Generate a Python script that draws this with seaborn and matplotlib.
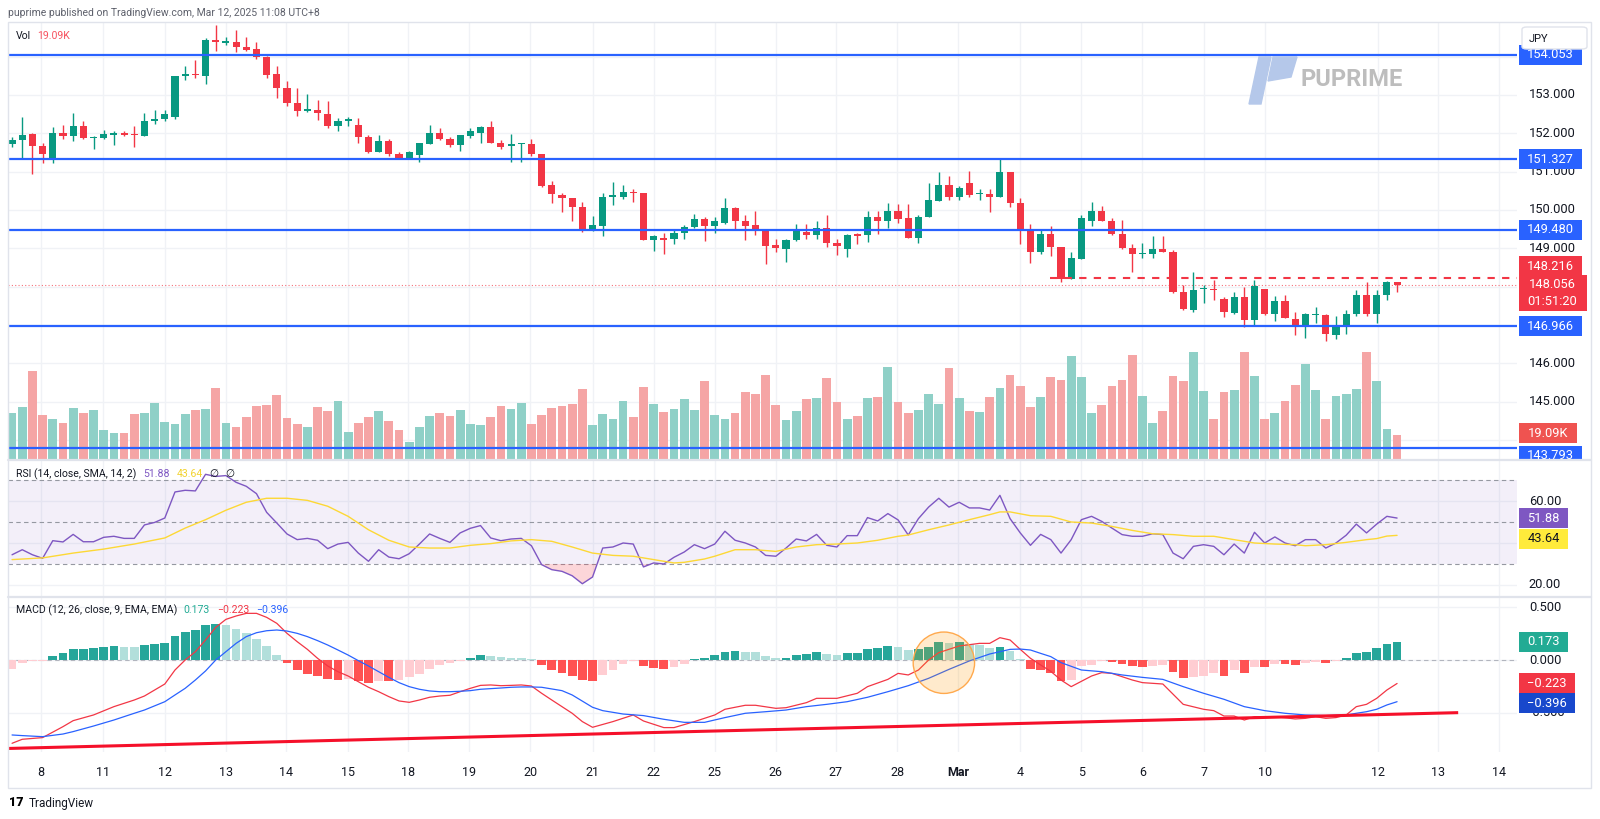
import numpy as np
import matplotlib
matplotlib.use("Agg")
import matplotlib.pyplot as plt
import seaborn as sns
from matplotlib.patches import Rectangle, Polygon, Ellipse, FancyBboxPatch
from matplotlib.lines import Line2D

# ---------------- data (4H candles, USD/JPY) ----------------
opens = [151.72, 151.83, 151.98, 151.67, 151.31, 152.00, 151.94, 152.19, 151.88, 151.88,
         151.95, 152.01, 151.98, 151.94, 152.31, 152.38, 152.42, 153.50, 153.55, 153.50,
         154.43, 154.35, 154.38, 154.26, 154.19, 153.98, 153.54, 153.18, 152.78, 152.59,
         152.61, 152.51, 152.19, 152.32, 152.22, 151.91, 151.52, 151.81, 151.47, 151.36,
         151.44, 151.72, 152.00, 151.86, 151.69, 151.94, 152.00, 152.16, 151.76, 151.67,
         151.71, 151.72, 151.45, 150.65, 150.40, 150.31, 150.07, 149.46, 149.59, 150.35,
         150.35, 150.47, 150.44, 149.22, 149.25, 149.24, 149.39, 149.55, 149.76, 149.57,
         149.65, 150.06, 149.71, 149.60, 149.45, 149.08, 148.98, 149.22, 149.42, 149.35,
         149.52, 149.15, 148.98, 149.37, 149.35, 149.83, 149.71, 149.98, 149.78, 149.28,
         149.83, 150.24, 150.65, 150.35, 150.70, 150.41, 150.42, 150.35, 150.98, 150.18,
         149.48, 148.91, 149.38, 149.03, 148.19, 148.72, 149.70, 149.98, 149.71, 149.37,
         149.00, 148.85, 148.85, 148.98, 148.91, 147.87, 147.39, 147.93, 147.93, 147.67,
         147.31, 147.74, 147.12, 147.93, 147.29, 147.63, 147.16, 147.00, 147.26, 147.26,
         146.74, 146.98, 147.28, 147.77, 147.28, 147.77, 148.11]
highs = [151.91, 152.42, 152.02, 151.74, 152.16, 152.22, 152.54, 152.31, 151.93, 152.09,
         152.05, 152.05, 152.18, 152.52, 152.61, 152.61, 153.50, 153.76, 153.91, 154.48,
         154.83, 154.52, 154.70, 154.52, 154.37, 154.02, 153.76, 153.37, 153.18, 153.02,
         152.87, 152.85, 152.39, 152.42, 152.41, 151.96, 151.96, 151.85, 151.50, 151.55,
         151.76, 152.22, 152.13, 151.90, 151.96, 152.15, 152.18, 152.32, 151.83, 151.98,
         151.76, 151.85, 151.45, 150.76, 150.44, 150.31, 150.22, 149.85, 150.45, 150.74,
         150.65, 150.55, 150.45, 149.35, 149.39, 149.48, 149.61, 149.89, 149.83, 149.83,
         150.31, 150.09, 149.87, 149.98, 149.51, 149.25, 149.25, 149.63, 149.63, 149.71,
         149.87, 149.24, 149.38, 149.39, 149.98, 149.98, 150.19, 150.16, 150.16, 149.87,
         150.70, 150.98, 150.89, 150.63, 151.02, 150.54, 150.54, 151.32, 150.98, 150.31,
         149.64, 149.48, 149.59, 149.03, 148.91, 149.87, 150.20, 150.11, 149.80, 149.74,
         149.11, 149.15, 149.32, 149.31, 148.96, 148.04, 148.39, 148.04, 148.18, 147.74,
         147.85, 147.98, 148.18, 147.93, 147.76, 147.78, 147.35, 147.31, 147.48, 147.28,
         147.24, 147.39, 147.91, 148.11, 147.91, 148.15, 148.13]
lows = [151.64, 151.35, 150.94, 151.22, 151.22, 151.85, 151.81, 151.85, 151.60, 151.86,
        151.70, 151.93, 151.65, 151.93, 152.25, 152.33, 152.38, 153.38, 153.44, 153.28,
        154.16, 154.31, 154.13, 154.16, 153.93, 153.45, 152.93, 152.71, 152.45, 152.56,
        152.35, 152.13, 152.05, 152.19, 151.76, 151.48, 151.50, 151.41, 151.34, 151.34,
        151.24, 151.72, 151.82, 151.64, 151.55, 151.89, 151.74, 151.74, 151.60, 151.26,
        151.25, 151.41, 150.61, 150.19, 149.96, 149.71, 149.42, 149.46, 149.31, 150.14,
        150.28, 150.22, 149.22, 148.94, 148.85, 149.11, 149.24, 149.52, 149.19, 149.39,
        149.64, 149.48, 149.22, 149.35, 148.58, 148.91, 148.64, 149.19, 149.25, 149.24,
        149.03, 148.83, 148.77, 149.11, 149.16, 149.37, 149.54, 149.65, 149.28, 149.13,
        149.81, 150.24, 150.26, 150.25, 150.33, 150.25, 149.96, 150.35, 150.07, 149.11,
        148.63, 148.85, 148.80, 148.11, 148.19, 148.72, 149.59, 149.70, 149.35, 148.98,
        148.39, 148.76, 148.74, 148.91, 147.83, 147.38, 147.33, 147.57, 147.65, 147.22,
        147.29, 146.94, 147.00, 147.26, 147.11, 147.18, 146.74, 146.65, 147.05, 146.57,
        146.63, 146.76, 147.24, 147.24, 147.05, 147.64, 147.85]
closes = [151.83, 151.96, 151.68, 151.45, 152.00, 151.93, 152.19, 151.88, 151.90, 151.98,
          152.02, 151.95, 151.96, 152.31, 152.38, 152.50, 153.50, 153.55, 153.53, 154.44,
          154.37, 154.41, 154.26, 154.18, 154.00, 153.53, 153.18, 152.80, 152.59, 152.64,
          152.52, 152.19, 152.31, 152.37, 151.90, 151.52, 151.81, 151.46, 151.36, 151.52,
          151.75, 152.00, 151.86, 151.69, 151.95, 152.06, 152.16, 151.76, 151.65, 151.71,
          151.72, 151.46, 150.63, 150.41, 150.30, 150.09, 149.46, 149.60, 150.35, 150.37,
          150.46, 150.44, 149.22, 149.32, 149.23, 149.39, 149.55, 149.76, 149.57, 149.71,
          150.06, 149.72, 149.59, 149.45, 149.07, 149.00, 149.22, 149.46, 149.35, 149.52,
          149.15, 149.07, 149.35, 149.33, 149.83, 149.71, 149.98, 149.77, 149.28, 149.83,
          150.26, 150.65, 150.35, 150.58, 150.39, 150.43, 150.35, 150.98, 150.18, 149.48,
          148.91, 149.38, 149.03, 148.19, 148.74, 149.78, 149.98, 149.71, 149.37, 149.00,
          148.85, 148.87, 148.98, 148.91, 147.87, 147.42, 147.91, 147.96, 147.90, 147.33,
          147.74, 147.13, 148.03, 147.29, 147.63, 147.19, 147.00, 147.28, 147.28, 146.76,
          146.98, 147.28, 147.77, 147.28, 147.77, 148.11, 148.056]
volume_k = [36.6, 41.3, 69.1, 34.8, 32.0, 28.6, 40.2, 36.1, 38.7, 23.2,
            20.6, 20.6, 35.3, 36.1, 44.1, 29.4, 27.9, 35.3, 38.7, 39.5,
            55.7, 28.6, 25.8, 33.3, 41.5, 42.6, 50.3, 32.5, 27.9, 25.3,
            40.8, 38.2, 45.7, 21.7, 28.6, 33.3, 37.9, 29.9, 23.2, 13.7,
            25.8, 34.1, 36.1, 34.1, 38.7, 27.9, 27.1, 33.3, 41.5, 39.5,
            44.1, 27.9, 34.8, 40.2, 41.5, 43.3, 55.0, 27.1, 35.3, 32.0,
            45.7, 33.3, 56.2, 43.3, 37.4, 39.5, 47.5, 38.7, 61.1, 34.8,
            32.0, 36.1, 52.4, 50.8, 65.8, 42.6, 30.7, 37.9, 47.5, 48.2,
            63.7, 44.9, 31.5, 34.1, 48.2, 48.8, 72.0, 44.9, 36.6, 38.7,
            50.8, 43.3, 71.2, 48.2, 37.9, 37.2, 48.8, 55.7, 65.8, 57.0,
            40.8, 48.8, 64.2, 61.9, 80.5, 64.2, 36.6, 42.6, 57.5, 61.7,
            81.3, 49.3, 28.6, 37.9, 65.0, 61.1, 83.3, 53.4, 32.0, 52.9,
            54.2, 83.9, 65.0, 32.0, 36.6, 45.7, 58.1, 74.3, 54.2, 32.0,
            49.3, 50.8, 54.7, 83.3, 61.1, 23.7, 19.09]
rsi = [34.4, 36.8, 34.4, 32.7, 41.1, 40.5, 44.1, 40.6, 40.6, 42.7,
       43.2, 42.2, 42.2, 48.6, 49.8, 51.9, 64.3, 65.1, 64.8, 72.7,
       71.7, 72.1, 68.9, 67.0, 63.5, 54.6, 49.5, 44.3, 41.6, 42.2,
       41.3, 37.3, 39.5, 40.3, 35.2, 31.3, 36.8, 33.3, 32.5, 34.9,
       39.5, 44.3, 42.2, 40.3, 44.8, 47.0, 48.3, 42.4, 41.1, 41.9,
       42.2, 38.7, 29.7, 27.3, 26.5, 24.4, 20.6, 23.8, 37.6, 38.1,
       40.0, 39.5, 28.6, 30.5, 30.0, 33.2, 35.7, 39.2, 37.3, 39.5,
       45.6, 41.3, 40.0, 38.1, 34.1, 33.7, 37.6, 41.9, 41.0, 44.1,
       38.9, 38.1, 43.5, 43.5, 52.1, 50.5, 54.0, 51.0, 43.8, 51.6,
       57.1, 61.3, 57.1, 59.4, 56.7, 56.7, 55.7, 62.7, 51.6, 44.8,
       38.9, 44.1, 41.6, 35.2, 41.6, 51.1, 52.7, 50.3, 47.1, 44.0,
       43.2, 43.2, 44.4, 44.0, 35.2, 32.5, 38.4, 39.2, 38.4, 34.4,
       39.5, 35.2, 45.1, 40.0, 42.9, 40.0, 38.7, 41.6, 41.6, 37.6,
       40.0, 43.7, 49.0, 44.8, 49.0, 52.7, 51.88]
rsi_sma_idx = [0, 3, 6, 9, 12, 15, 17, 19, 21, 23, 25, 27, 29, 31, 33, 35, 37, 39, 41, 43,
               45, 47, 49, 51, 53, 55, 57, 59, 61, 63, 65, 66, 68, 69, 71, 73, 75, 77, 79, 81,
               83, 85, 87, 88, 90, 92, 94, 96, 97, 98, 100, 102, 104, 106, 108, 110, 112, 114,
               116, 118, 120, 122, 124, 126, 127, 129, 131, 133, 134, 135, 136]
rsi_sma = [32.1, 32.9, 35.2, 37.1, 39.5, 42.4, 47.1, 51.1, 55.6, 59.4, 61.3, 61.3, 60.3, 57.5,
           52.7, 46.3, 41.3, 38.1, 37.6, 37.6, 38.9, 39.7, 41.0, 41.6, 40.8, 38.1, 35.2, 34.1,
           33.7, 32.1, 30.5, 30.8, 32.4, 33.7, 36.8, 36.8, 36.0, 38.1, 39.2, 39.5, 40.0, 41.3,
           43.2, 43.8, 46.3, 48.6, 51.1, 53.5, 54.8, 54.8, 53.0, 52.7, 50.0, 49.5, 47.9, 46.0,
           44.4, 44.0, 43.2, 43.2, 41.6, 40.0, 39.5, 39.2, 38.7, 39.2, 40.3, 41.6, 42.1, 43.3,
           43.64]
macd_hist = [-0.082, -0.025, -0.010, -0.006, 0.038, 0.066, 0.104, 0.107, 0.114, 0.123,
             0.130, 0.123, 0.123, 0.139, 0.155, 0.165, 0.228, 0.263, 0.282, 0.329,
             0.339, 0.332, 0.294, 0.256, 0.199, 0.130, 0.047, -0.032, -0.098, -0.130,
             -0.155, -0.180, -0.187, -0.177, -0.199, -0.218, -0.196, -0.199, -0.190, -0.165,
             -0.133, -0.082, -0.051, -0.032, -0.009, 0.022, 0.047, 0.035, 0.028, 0.019,
             0.019, 0.013, -0.047, -0.095, -0.120, -0.149, -0.187, -0.196, -0.142, -0.095,
             -0.038, -0.009, -0.057, -0.073, -0.082, -0.063, -0.038, 0.006, 0.019, 0.047,
             0.079, 0.085, 0.079, 0.073, 0.038, 0.019, 0.022, 0.047, 0.057, 0.073,
             0.057, 0.047, 0.066, 0.069, 0.104, 0.114, 0.136, 0.127, 0.095, 0.104,
             0.127, 0.168, 0.161, 0.168, 0.152, 0.142, 0.111, 0.127, 0.085, 0.013,
             -0.085, -0.095, -0.127, -0.196, -0.190, -0.057, -0.047, -0.009, -0.016, -0.038,
             -0.057, -0.063, -0.054, -0.052, -0.111, -0.174, -0.165, -0.149, -0.127, -0.149,
             -0.095, -0.127, -0.063, -0.063, -0.038, -0.038, -0.047, -0.032, -0.016, -0.025,
             -0.009, 0.019, 0.070, 0.079, 0.114, 0.152, 0.173]
macd_idx = [0, 1, 3, 5, 6, 8, 10, 12, 13, 15, 16, 17, 18, 19, 20, 21, 22, 23, 24, 25,
            26, 27, 28, 29, 30, 31, 32, 33, 34, 35, 36, 37, 38, 39, 40, 41, 42, 43, 44, 45,
            46, 47, 48, 49, 50, 51, 52, 53, 55, 56, 57, 59, 61, 62, 64, 65, 67, 69, 70, 72,
            73, 75, 76, 78, 79, 81, 83, 84, 86, 87, 88, 89, 90, 91, 93, 95, 96, 97, 98, 99,
            100, 101, 102, 103, 104, 106, 107, 108, 110, 111, 113, 115, 117, 118, 119, 120,
            121, 122, 124, 126, 127, 128, 129, 130, 131, 132, 133, 134, 135, 136]
macd_line = [-0.791, -0.753, -0.737, -0.633, -0.576, -0.522, -0.443, -0.380, -0.342, -0.228,
             -0.095, 0.000, 0.079, 0.190, 0.310, 0.386, 0.418, 0.443, 0.443, 0.405,
             0.348, 0.253, 0.174, 0.101, 0.016, -0.057, -0.111, -0.152, -0.206, -0.259,
             -0.301, -0.348, -0.389, -0.402, -0.380, -0.354, -0.342, -0.335, -0.301, -0.269,
             -0.241, -0.237, -0.244, -0.241, -0.237, -0.247, -0.316, -0.380, -0.506, -0.585,
             -0.639, -0.585, -0.522, -0.579, -0.642, -0.642, -0.585, -0.522, -0.468, -0.430,
             -0.430, -0.459, -0.453, -0.405, -0.364, -0.364, -0.316, -0.253, -0.184, -0.127,
             -0.142, -0.095, 0.000, 0.070, 0.133, 0.158, 0.158, 0.212, 0.190, 0.101,
             0.016, -0.047, -0.108, -0.190, -0.253, -0.152, -0.120, -0.127, -0.190, -0.215,
             -0.228, -0.421, -0.468, -0.481, -0.532, -0.532, -0.570, -0.538, -0.538, -0.560,
             -0.554, -0.538, -0.554, -0.547, -0.522, -0.443, -0.421, -0.364, -0.285, -0.223]
signal_idx = [0, 1, 3, 5, 6, 8, 10, 12, 13, 15, 16, 17, 18, 19, 20, 21, 22, 23, 24, 25,
              26, 27, 28, 29, 30, 31, 32, 33, 34, 35, 36, 37, 38, 39, 40, 41, 42, 43, 44, 45,
              46, 47, 48, 49, 50, 51, 52, 54, 55, 57, 58, 60, 62, 64, 66, 68, 70, 72, 74, 76,
              78, 80, 82, 84, 86, 88, 90, 92, 94, 96, 98, 99, 100, 101, 102, 103, 105, 107,
              109, 111, 113, 115, 117, 119, 121, 123, 125, 127, 129, 131, 132, 133, 134, 135, 136]
signal_line = [-0.712, -0.718, -0.728, -0.703, -0.680, -0.627, -0.570, -0.506, -0.475, -0.396,
               -0.332, -0.269, -0.190, -0.104, 0.000, 0.079, 0.158, 0.222, 0.259, 0.278,
               0.285, 0.275, 0.253, 0.222, 0.184, 0.142, 0.095, 0.047, -0.006, -0.057,
               -0.111, -0.165, -0.215, -0.253, -0.278, -0.294, -0.301, -0.301, -0.297, -0.291,
               -0.278, -0.272, -0.266, -0.259, -0.256, -0.256, -0.259, -0.291, -0.332, -0.449,
               -0.481, -0.513, -0.528, -0.563, -0.592, -0.592, -0.547, -0.506, -0.491, -0.475,
               -0.443, -0.421, -0.396, -0.354, -0.301, -0.244, -0.174, -0.089, -0.009, 0.057,
               0.101, 0.104, 0.095, 0.063, 0.032, -0.025, -0.095, -0.111, -0.142, -0.165,
               -0.184, -0.253, -0.316, -0.373, -0.443, -0.481, -0.506, -0.522, -0.528, -0.522,
               -0.506, -0.491, -0.468, -0.427, -0.396]
level_lines = [154.053, 151.327, 149.480, 146.966, 143.793]
resistance_dashed = 148.216
last_price = 148.056
countdown = "01:51:20"
trend_x = [-0.35, 142.0]
trend_y = [-0.84, -0.50]
day_labels = ['8', '11', '12', '13', '14', '15', '18', '19', '20', '21', '22', '25', '26',
              '27', '28', 'Mar', '4', '5', '6', '7', '10', '12', '13', '14']
day_pos = [2.8, 8.9, 15.0, 21.0, 26.9, 33.0, 38.9, 44.9, 50.9, 57.0, 63.0, 69.0, 75.0,
           80.9, 86.9, 92.9, 99.0, 105.0, 111.0, 117.0, 123.0, 134.1, 140.0, 146.0]
price_ticks = [144, 145, 146, 147, 148, 149, 150, 151, 152, 153, 154]
rsi_ticks = [20, 40, 60]
macd_ticks = [0.5, 0.0, -0.5]

# ---------------- style ----------------
sns.set_theme(style="white")
plt.rcParams['font.family'] = ['Roboto', 'DejaVu Sans']
plt.rcParams['axes.unicode_minus'] = True

GREEN, RED = '#089981', '#F23645'
BLUE = '#2962FF'
GRID = '#F0F2F6'
TXT = '#131722'

W, H = 1600, 819
fig = plt.figure(figsize=(16, 8.19), dpi=100, facecolor='white')

def rect(x0, y0, x1, y1):
    return [x0 / W, 1 - y1 / H, (x1 - x0) / W, (y1 - y0) / H]

def P(x, y):
    return (x / W, 1 - y / H)

X0, DX = 12.05, 10.184          # pixel position of first candle, pixels per candle
PX0, PX1 = 8, 1517
xlim = ((PX0 - X0) / DX, (PX1 - X0) / DX)
n = len(closes)
idx = np.arange(n)

ax_bg = fig.add_axes(rect(PX0, 22, PX1, 460))
ax_vol = fig.add_axes(rect(PX0, 22, PX1, 460))
ax_price = fig.add_axes(rect(PX0, 22, PX1, 460))
ax_rsi = fig.add_axes(rect(PX0, 460, PX1, 597))
ax_macd = fig.add_axes(rect(PX0, 597, PX1, 752))
ax_bg.set_zorder(0); ax_vol.set_zorder(0.1); ax_price.set_zorder(0.2)

price_lim = (153 - (460 - 95) / 38.33, 153 + (95 - 22) / 38.33)
vol_lim = (0, 19.09 * 438 / 24.67)
rsi_lim = (60 - (597 - 501) / 2.1, 60 + (501 - 460) / 2.1)
macd_lim = (-(752 - 660) / 105.3, (660 - 597) / 105.3)

# grid
for v in price_ticks:
    ax_bg.axhline(v, color=GRID, lw=1, zorder=0)
for ax in (ax_bg, ax_rsi, ax_macd):
    for p in day_pos:
        ax.axvline(p, color=GRID, lw=1, zorder=0)
for v in rsi_ticks:
    ax_rsi.axhline(v, color=GRID, lw=1, zorder=0)
for v in macd_ticks:
    ax_macd.axhline(v, color=GRID, lw=1, zorder=0)

# watermark
ax_bg.add_patch(Polygon([P(1259, 57), P(1271, 57), P(1261, 104), P(1249, 104)],
                        closed=True, transform=fig.transFigure, color='#B5C8EA', zorder=1))
ax_bg.add_patch(Polygon([P(1273, 57), P(1297, 57), P(1291, 77), P(1268, 81)],
                        closed=True, transform=fig.transFigure, color='#B5C8EA', zorder=1))
ax_bg.text(*P(1301, 80), 'PUPRIME', transform=fig.transFigure, ha='left', va='center',
           fontsize=17, fontweight='bold', color='#BDBDBD', zorder=1)

# volume
o = np.array(opens); c = np.array(closes)
up = c >= o
vol_colors = np.where(up, '#8FD0C7', '#F5A5A5')
ax_vol.bar(idx, volume_k, width=0.86, color=vol_colors, linewidth=0)

# candles
cand_colors = np.where(up, GREEN, RED)
ax_price.vlines(idx, lows, highs, colors=cand_colors, lw=1, zorder=3)
body_bottom = np.minimum(o, c)
body_h = np.maximum(np.abs(c - o), 0.03)
ax_price.bar(idx, body_h, bottom=body_bottom, width=0.7, color=cand_colors, linewidth=0, zorder=4)
for lv in level_lines:
    ax_price.axhline(lv, color=BLUE, lw=1.6, zorder=5)
ax_price.hlines(resistance_dashed, 101.9, xlim[1], colors=RED, lw=1.5,
                linestyles=(0, (3.5, 3.5)), zorder=5)
ax_price.axhline(last_price, color=RED, lw=0.8, alpha=0.7, ls=(0, (1, 2)), zorder=2)

# RSI pane
ax_rsi.axhspan(30, 70, color='#7E57C2', alpha=0.09, lw=0, zorder=0.5)
for lv in (70, 50, 30):
    ax_rsi.axhline(lv, color='#9598A1', lw=0.8, ls=(0, (4, 3)), zorder=1)
r = np.array(rsi)
ax_rsi.fill_between(idx, r, 30, where=r < 30, interpolate=True, color=RED, alpha=0.2, lw=0)
sns.lineplot(x=idx, y=rsi, ax=ax_rsi, color='#7E57C2', linewidth=1, errorbar=None, legend=False)
sns.lineplot(x=rsi_sma_idx, y=rsi_sma, ax=ax_rsi, color='#FDD835', linewidth=1, errorbar=None, legend=False)

# MACD pane
hist_colors = []
for i, hv in enumerate(macd_hist):
    prev = macd_hist[i - 1] if i > 0 else hv - 0.01
    if hv >= 0:
        hist_colors.append('#26A69A' if hv > prev else '#B2DFDB')
    else:
        hist_colors.append('#FFCDD2' if hv > prev else '#FF5252')
ax_macd.axhline(0, color='#B2B5BE', lw=0.8, ls=(0, (4, 3)), zorder=0.5)
ax_macd.bar(idx, macd_hist, width=0.86, color=hist_colors, linewidth=0, zorder=1)
sns.lineplot(x=macd_idx, y=macd_line, ax=ax_macd, color='#F23645', linewidth=0.9, errorbar=None, legend=False)
sns.lineplot(x=signal_idx, y=signal_line, ax=ax_macd, color='#2962FF', linewidth=0.9, errorbar=None, legend=False)
ax_macd.plot(trend_x, trend_y, color='#F5102A', lw=2.2, solid_capstyle='butt', zorder=4)
ax_macd.add_patch(Ellipse((91.5, -0.026), width=61.4 / DX, height=61.4 / 105.3,
                          facecolor=(1, 0.6, 0.0, 0.2), edgecolor='#FFA94D', lw=1, zorder=5))

for ax, yl in ((ax_bg, price_lim), (ax_vol, vol_lim), (ax_price, price_lim),
               (ax_rsi, rsi_lim), (ax_macd, macd_lim)):
    ax.set_xlim(*xlim)
    ax.set_ylim(*yl)
    ax.set_xticks([]); ax.set_yticks([])
    ax.set_xlabel(''); ax.set_ylabel('')
    for s in ax.spines.values():
        s.set_visible(False)
    ax.set_facecolor('none')
ax_bg.set_facecolor('white')

# ---------------- frame & separators ----------------
BORDER = '#E0E3EB'
fig.add_artist(Rectangle(P(8, 788), (1591 - 8) / W, (788 - 22) / H, transform=fig.transFigure,
                         fill=False, edgecolor=BORDER, lw=1, zorder=2))
for yy in (460, 597):
    fig.add_artist(Line2D([8 / W, 1591 / W], [1 - yy / H] * 2, color=BORDER, lw=1.6, zorder=6.5))

# ---------------- right-axis labels ----------------
def ypix(ax, v):
    return H - ax.transData.transform((0, v))[1]

boxes = []   # (y centre, half height) of drawn label boxes, in pixels

def box_label(ax, v, s, fc, tc='white', x0=1519, w=63, h=20, dy=0.0):
    yc = ypix(ax, v) + dy
    boxes.append((yc, h / 2))
    fig.add_artist(Rectangle((x0 / W, 1 - (yc + h / 2) / H), w / W, h / H,
                             transform=fig.transFigure, facecolor=fc, edgecolor='none', zorder=4))
    fig.text((x0 + w / 2) / W, 1 - yc / H, s, ha='center', va='center', color=tc,
             fontsize=9.3, zorder=5)

for lv in level_lines:
    box_label(ax_price, lv, f'{lv:.3f}', BLUE, dy=8 if lv == level_lines[-1] else 0)
box_label(ax_price, resistance_dashed, f'{resistance_dashed:.3f}', RED, dy=-12)
# last price + countdown
yc = ypix(ax_price, last_price)
boxes.append((yc + 8, 18))
fig.add_artist(Rectangle((1519 / W, 1 - (yc + 26) / H), 68 / W, 36 / H, transform=fig.transFigure,
                         facecolor=RED, edgecolor='none', zorder=4))
fig.text(1552 / W, 1 - yc / H, f'{last_price:.3f}', ha='center', va='center', color='white',
         fontsize=9.3, zorder=5)
fig.text(1552 / W, 1 - (yc + 16.5) / H, countdown, ha='center', va='center', color='white',
         fontsize=9.3, zorder=5)
box_label(ax_vol, volume_k[-1], f'{volume_k[-1]:.2f}K', '#EF5350', w=58, dy=-2)
# hide the part of the lowest level label below the price pane
fig.add_artist(Rectangle((1517 / W, 1 - 470 / H), 70 / W, 10 / H, transform=fig.transFigure,
                         facecolor='white', edgecolor='none', zorder=6))
box_label(ax_rsi, rsi[-1], f'{rsi[-1]:.2f}', '#7E57C2', w=49)
box_label(ax_rsi, rsi_sma[-1], f'{rsi_sma[-1]:.2f}', '#FFEB3B', tc=TXT, w=49, dy=3.5)
box_label(ax_macd, macd_hist[-1], f'{macd_hist[-1]:.3f}', '#22AB94', w=49)
box_label(ax_macd, macd_line[-1], f'{macd_line[-1]:.3f}'.replace('-', '\u2212'), RED, w=56)
box_label(ax_macd, signal_line[-1], f'{signal_line[-1]:.3f}'.replace('-', '\u2212'), '#1848CC',
          w=56, dy=1.6)

def tick_text(ax, v, s, xc=1552):
    y = ypix(ax, v)
    if any(abs(y - bc) < hh - 1 for bc, hh in boxes):
        return   # fully hidden behind a label box, as in the original
    fig.text(xc / W, 1 - y / H, s, ha='center', va='center', fontsize=9.3,
             color=TXT, zorder=3)

for v in price_ticks:
    tick_text(ax_price, v, f'{v:.3f}')
for v in rsi_ticks:
    tick_text(ax_rsi, v, f'{v:.2f}', xc=1545)
for v in macd_ticks:
    tick_text(ax_macd, v, f'{v:.3f}'.replace('-', '\u2212'), xc=1545)

# JPY box
fig.add_artist(FancyBboxPatch(P(1522, 49), 65 / W, 22 / H, boxstyle='round,pad=0,rounding_size=0.003',
                              transform=fig.transFigure, facecolor='white', edgecolor=BORDER,
                              lw=1, zorder=6))
fig.text(*P(1529, 38.5), 'JPY', ha='left', va='center', fontsize=8, color=TXT, zorder=7)

# ---------------- time axis ----------------
for lab, p in zip(day_labels, day_pos):
    fig.text((X0 + DX * p) / W, 1 - 773 / H, lab, ha='center', va='center', fontsize=9,
             color=TXT, fontweight='bold' if lab == 'Mar' else 'normal')

# ---------------- header & legends ----------------
renderer = fig.canvas.get_renderer()

def text_row(x, y, parts, fontsize=7.6, gap=7):
    for s, col, fam in parts:
        kw = {'family': fam} if fam else {}
        t = fig.text(*P(x, y), s, ha='left', va='center', fontsize=fontsize, color=col, **kw)
        x += t.get_window_extent(renderer).width + gap

fig.text(*P(8, 13), 'puprime published on TradingView.com, Mar 12, 2025 11:08 UTC+8',
         ha='left', va='center', fontsize=7.5, color='#5D606B')
text_row(15.5, 36, [('Vol', TXT, None), (f'{volume_k[-1]:.2f}K', '#F7525F', None)])
text_row(15.5, 474, [('RSI (14, close, SMA, 14, 2)', TXT, None),
                     (f'{rsi[-1]:.2f}', '#7E57C2', None),
                     (f'{rsi_sma[-1]:.2f}', '#F2D22E', None),
                     ('\u2205', TXT, ['DejaVu Sans']), ('\u2205', TXT, ['DejaVu Sans'])])
text_row(15.5, 610, [('MACD (12, 26, close, 9, EMA, EMA)', TXT, None),
                     (f'{macd_hist[-1]:.3f}', '#22AB94', None),
                     (f'{macd_line[-1]:.3f}'.replace('-', '\u2212'), RED, None),
                     (f'{signal_line[-1]:.3f}'.replace('-', '\u2212'), BLUE, None)])

# TradingView footer
fig.text(*P(9, 803), '17', ha='left', va='center', fontsize=9, fontweight='heavy', color='black')
fig.text(*P(29, 803), 'TradingView', ha='left', va='center', fontsize=8.5, color=TXT)

fig.savefig('out.png', dpi=100, facecolor='white')
